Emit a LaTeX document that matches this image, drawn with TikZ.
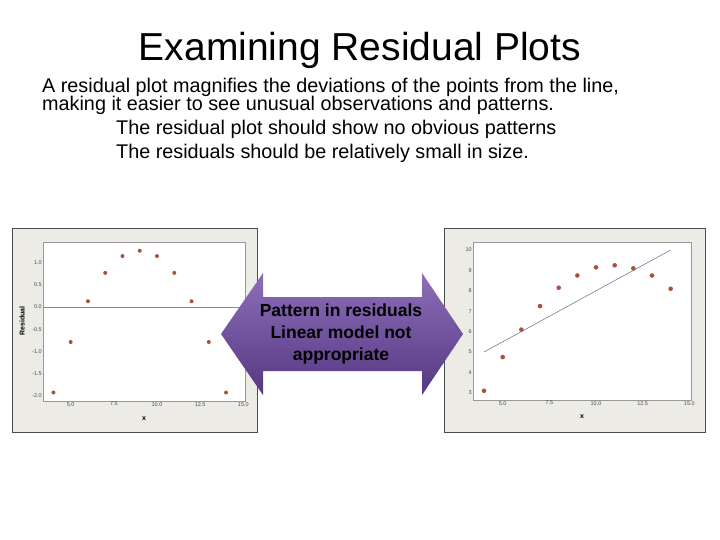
\documentclass[tikz,border=0pt]{standalone}
\usepackage{fontspec}
\setmainfont{Liberation Sans}
\definecolor{plotbg}{RGB}{236,235,230}
\definecolor{dotc}{RGB}{170,80,60}
\definecolor{fitc}{RGB}{90,110,140}
\definecolor{arrtop}{RGB}{140,110,185}
\definecolor{arrbot}{RGB}{85,55,130}
\begin{document}
\begin{tikzpicture}[x=1pt,y=-1pt,
  frame/.style={draw=black!70,fill=plotbg,line width=0.6pt},
  inner/.style={draw=black!40,fill=white,line width=0.4pt},
  pt/.style={fill=dotc,draw=none},
  tick/.style={font=\fontsize{5.5}{6}\selectfont,text=black!70,inner sep=1pt},
  body/.style={font=\fontsize{19.8}{21}\selectfont,anchor=west,inner sep=0pt}]
\useasboundingbox (0,0) rectangle (720,540);
\fill[white] (0,0) rectangle (720,540);
\node[font=\fontsize{39}{42}\selectfont] (title) at (360,50) {Examining Residual Plots};
\node[body] (l1) at (42,87) {A residual plot magnifies the deviations of the points from the line,};
\node[body] (l2) at (42,105) {making it easier to see unusual observations and patterns.};
\node[body] (l3) at (116,129) {The residual plot should show no obvious patterns};
\node[body] (l4) at (116,153) {The residuals should be relatively small in size.};
% left plot
\draw[frame] (12,228) rectangle (257,432);
\draw[inner] (43,242) rectangle (245,401);
\draw[black!45,line width=0.5pt] (43,307) -- (245,307);
\foreach \v/\l in {1/1.0,0.5/0.5,0/0.0,-0.5/-0.5,-1/-1.0,-1.5/-1.5,-2/-2.0}
  \node[tick,anchor=east] at (43,{307-44.3*\v}) {\l};
\foreach \v/\l in {5/5.0,7.5/7.5,10/10.0,12.5/12.5,15/15.0}
  \node[tick,anchor=north] at ({70.7+17.26*(\v-5)},401) {\l};
\node[font=\bfseries\fontsize{7}{8}\selectfont] (lx) at (144,419) {x};
\node[font=\bfseries\fontsize{7}{8}\selectfont,rotate=90] (ly) at (22,321) {Residual};
\foreach \a/\r in {4/-1.93,5/-0.79,6/0.13,7/0.77,8/1.15,9/1.27,10/1.15,11/0.77,12/0.13,13/-0.79,14/-1.93}
  \fill[pt] ({70.7+17.26*(\a-5)},{307-44.3*\r}) circle (2);
% right plot
\draw[frame] (444,228) rectangle (705,432);
\draw[inner] (473,242) rectangle (691,400);
\foreach \v in {3,...,10}
  \node[tick,anchor=east] at (473,{250+20.4*(10-\v)}) {\v};
\foreach \v/\l in {5/5.0,7.5/7.5,10/10.0,12.5/12.5,15/15.0}
  \node[tick,anchor=north] at ({502.7+18.66*(\v-5)},400) {\l};
\node[font=\bfseries\fontsize{7}{8}\selectfont] (rx) at (582,417) {x};
\coordinate (fa) at ({502.7+18.66*(4-5)},{250+20.4*5});
\coordinate (fb) at ({502.7+18.66*(14-5)},250);
\draw[fitc,line width=0.5pt] (fa) -- (fb);
\foreach \a/\r in {4/3.1,5/4.75,6/6.1,7/7.25,8/8.15,9/8.75,10/9.15,11/9.25,12/9.1,13/8.75,14/8.1}
  \fill[pt] ({502.7+18.66*(\a-5)},{250+20.4*(10-\r)}) circle (2.3);
% double arrow
\shade[top color=arrtop,bottom color=arrbot]
  (221,334) -- (263,273) -- (263,297) -- (422,297) -- (422,273) -- (463,334)
  -- (422,395) -- (422,371) -- (263,371) -- (263,395) -- cycle;
\node[font=\bfseries\fontsize{17.5}{22}\selectfont,align=center] (msg) at (341,334)
  {Pattern in residuals\\Linear model not\\appropriate};
\end{tikzpicture}
\end{document}
